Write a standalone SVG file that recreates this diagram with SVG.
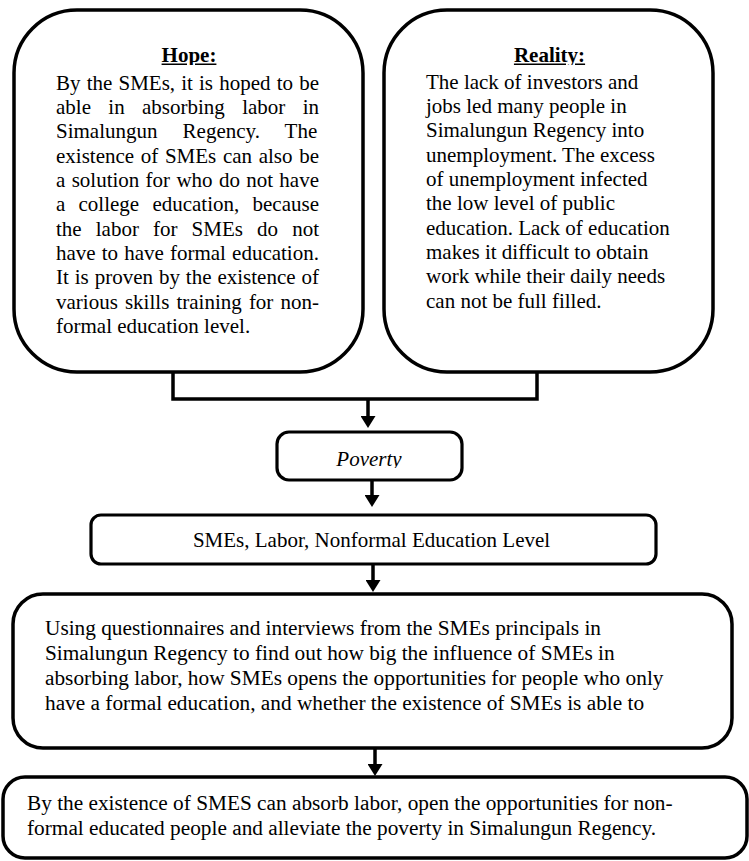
<svg xmlns="http://www.w3.org/2000/svg" width="749" height="861" viewBox="0 0 749 861">
<style>
.box{fill:#fff;stroke:#000;stroke-width:3.5}
.sbox{fill:#fff;stroke:#000;stroke-width:3.2}
.t{font-family:"Liberation Serif","Times New Roman",serif;font-size:21px;fill:#000}
.t2{font-family:"Liberation Serif","Times New Roman",serif;font-size:21.3px;fill:#000}
.title{font-family:"Liberation Serif","Times New Roman",serif;font-size:21px;font-weight:bold;text-decoration:underline;text-anchor:middle;fill:#000}
.conn{fill:none;stroke:#000;stroke-width:3.5}
</style>
<defs>
<marker id="ah" markerUnits="userSpaceOnUse" markerWidth="13" markerHeight="15" refX="6" refY="7.5" orient="auto">
<path d="M0,0 L12,7.5 L0,15 z" fill="#000"/>
</marker>
<clipPath id="clipHope"><rect x="100" y="30" width="180" height="35"/></clipPath>
<clipPath id="clipReal"><rect x="460" y="30" width="180" height="35"/></clipPath>
<clipPath id="clipPov"><rect x="290" y="440" width="160" height="28"/></clipPath>
</defs>
<rect width="749" height="861" fill="#fff"/>

<g id="connectors">
<path class="conn" d="M173,372 V399 H537 V372"/>
<line class="conn" x1="368" y1="400" x2="368" y2="422" marker-end="url(#ah)"/>
<line class="conn" x1="372" y1="480" x2="372" y2="501" marker-end="url(#ah)"/>
<line class="conn" x1="373" y1="564" x2="373" y2="586" marker-end="url(#ah)"/>
<line class="conn" x1="375" y1="748" x2="375" y2="770" marker-end="url(#ah)"/>
</g>

<g id="hope">
<rect class="box" x="14" y="10" width="349" height="362" rx="63" ry="63"/>
<text class="title" x="189" y="61.5" clip-path="url(#clipHope)">Hope:</text>
<text class="t" x="56" y="89.7" style="word-spacing:0.9px">By the SMEs, it is hoped to be</text>
<text class="t" x="56" y="114" style="word-spacing:12.1px">able in absorbing labor in</text>
<text class="t" x="56" y="138.4" style="word-spacing:19.8px">Simalungun Regency. The</text>
<text class="t" x="56" y="162.7" style="word-spacing:1.39px">existence of SMEs can also be</text>
<text class="t" x="56" y="187" style="word-spacing:1.06px">a solution for who do not have</text>
<text class="t" x="56" y="211.4" style="word-spacing:7.97px">a college education, because</text>
<text class="t" x="56" y="235.7" style="word-spacing:8.85px">the labor for SMEs do not</text>
<text class="t" x="56" y="260" style="word-spacing:0.87px">have to have formal education.</text>
<text class="t" x="56" y="284.3" style="word-spacing:0.68px">It is proven by the existence of</text>
<text class="t" x="56" y="308.7" style="word-spacing:1.88px">various skills training for non-</text>
<text class="t" x="56" y="333">formal education level.</text>
</g>

<g id="reality">
<rect class="box" x="384" y="10" width="329" height="362" rx="63" ry="63"/>
<text class="title" x="549.5" y="61.5" clip-path="url(#clipReal)">Reality:</text>
<text class="t" x="426" y="88.5">The lack of investors and</text>
<text class="t" x="426" y="112.8">jobs led many people in</text>
<text class="t" x="426" y="137.2">Simalungun Regency into</text>
<text class="t" x="426" y="161.5">unemployment. The excess</text>
<text class="t" x="426" y="185.8">of unemployment infected</text>
<text class="t" x="426" y="210.2">the low level of public</text>
<text class="t" x="426" y="234.5">education. Lack of education</text>
<text class="t" x="426" y="258.8">makes it difficult to obtain</text>
<text class="t" x="426" y="283.1">work while their daily needs</text>
<text class="t" x="426" y="307.5">can not be full filled.</text>
</g>

<g id="poverty">
<rect class="sbox" x="277" y="432" width="185" height="48" rx="12"/>
<text class="t" x="369" y="466" text-anchor="middle" font-style="italic" clip-path="url(#clipPov)">Poverty</text>
</g>

<g id="smes">
<rect class="sbox" x="91" y="515" width="565" height="49" rx="10"/>
<text class="t" x="371.5" y="547" text-anchor="middle">SMEs, Labor, Nonformal Education Level</text>
</g>

<g id="method">
<rect class="box" x="13" y="594" width="719" height="154" rx="30"/>
<text class="t2" x="45" y="635">Using questionnaires and interviews from the SMEs principals in</text>
<text class="t2" x="45" y="660">Simalungun Regency to find out how big the influence of SMEs in</text>
<text class="t2" x="45" y="685">absorbing labor, how SMEs opens the opportunities for people who only</text>
<text class="t2" x="45" y="710">have a formal education, and whether the existence of SMEs is able to</text>
</g>

<g id="result">
<rect class="box" x="3" y="777" width="744" height="81" rx="22"/>
<text class="t2" x="27" y="810">By the existence of SMES can absorb labor, open the opportunities for non-</text>
<text class="t2" x="27" y="835">formal educated people and alleviate the poverty in Simalungun Regency.</text>
</g>
</svg>
